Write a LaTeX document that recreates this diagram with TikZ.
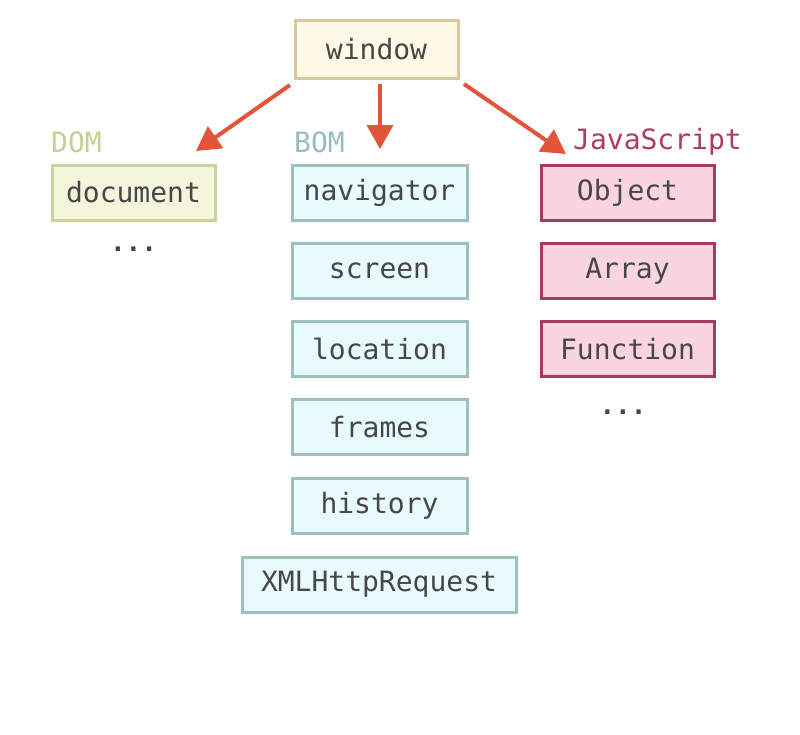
\documentclass[tikz,border=0pt]{standalone}
\usepackage{fontspec}
\setmonofont{DejaVu Sans Mono}
\usetikzlibrary{arrows.meta}
\definecolor{txt}{HTML}{474747}
\definecolor{winfill}{HTML}{FEF8E6}
\definecolor{windraw}{HTML}{D9C89E}
\definecolor{domfill}{HTML}{F4F6DC}
\definecolor{domdraw}{HTML}{CCD29D}
\definecolor{domlab}{HTML}{C6CE93}
\definecolor{bomfill}{HTML}{E8FAFB}
\definecolor{bomdraw}{HTML}{9DBFBF}
\definecolor{bomlab}{HTML}{98BDC0}
\definecolor{jsfill}{HTML}{FBD5DE}
\definecolor{jsdraw}{HTML}{A93A5F}
\definecolor{jslab}{HTML}{B03A64}
\definecolor{arr}{HTML}{E2553A}
\tikzset{
  box/.style={draw, line width=3pt, minimum height=55pt, inner sep=0pt,
    font=\ttfamily\fontsize{28}{30}\selectfont, text=txt},
  winbox/.style={box, fill=winfill, draw=windraw, minimum width=163pt, minimum height=58pt},
  dombox/.style={box, fill=domfill, draw=domdraw, minimum width=163pt},
  bombox/.style={box, fill=bomfill, draw=bomdraw, minimum width=175pt},
  jsbox/.style={box, fill=jsfill, draw=jsdraw, minimum width=173pt},
  lab/.style={anchor=west, inner sep=0pt, font=\ttfamily\fontsize{28}{30}\selectfont},
  dots/.style={inner sep=0pt, font=\ttfamily\bfseries\fontsize{26}{28}\selectfont, text=txt},
  arrowline/.style={draw=arr, line width=4pt, -{Triangle[length=24pt,width=26pt]}}
}
\begin{document}
\begin{tikzpicture}[x=1pt,y=-1pt]
\useasboundingbox (0,0) rectangle (800,734);
\node[winbox] (win) at (376.5,49) {window};

\node[lab, text=domlab] (domlab) at (51,142) {DOM};
\node[lab, text=bomlab] (bomlab) at (294,142) {BOM};
\node[lab, text=jslab] (jslab) at (573,142) {JavaScript};

\node[dombox] (doc) at (133.5,192.5) {document};
\node[dots] (domdots) at (133.5,249) {...};

\node[bombox] (nav) at (379.5,192.5) {navigator};
\node[bombox] (scr) at (379.5,271) {screen};
\node[bombox] (loc) at (379.5,349) {location};
\node[bombox] (fra) at (379.5,427) {frames};
\node[bombox] (his) at (379.5,505.5) {history};
\node[bombox, minimum width=274pt] (xml) at (379,584.5) {XMLHttpRequest};

\node[jsbox] (obj) at (627.5,192.5) {Object};
\node[jsbox] (arr) at (627.5,271) {Array};
\node[jsbox] (fun) at (627.5,349) {Function};
\node[dots] (jsdots) at (623,412) {...};

\coordinate (s1) at (290,85);
\coordinate (t1) at (196,151);
\coordinate (s2) at (380,84);
\coordinate (t2) at (380,149);
\coordinate (s3) at (464,84);
\coordinate (t3) at (566,154);
\draw[arrowline] (s1) -- (t1);
\draw[arrowline] (s2) -- (t2);
\draw[arrowline] (s3) -- (t3);
\end{tikzpicture}
\end{document}
